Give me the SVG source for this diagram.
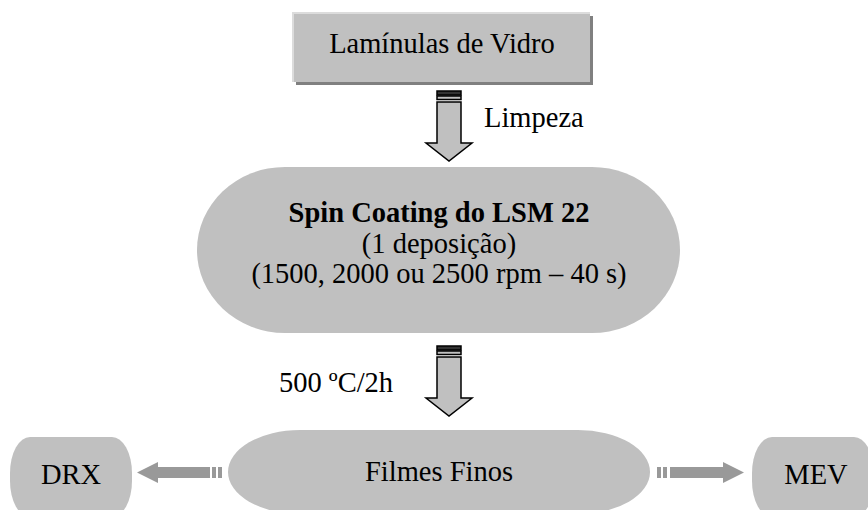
<svg xmlns="http://www.w3.org/2000/svg" width="868" height="510" viewBox="0 0 868 510">
<style>
.t{font-family:"Liberation Serif","Times New Roman",serif;font-size:28.5px;fill:#000;text-anchor:middle}
.b{font-weight:bold}
.shape{fill:#c0c0c0}
.blk{fill:#c0c0c0;stroke:#000;stroke-width:1.5}
.dark{fill:#333;stroke:#000;stroke-width:1.5}
.ga{fill:#999999}
</style>
<rect width="868" height="510" fill="#fff"/>
<g id="node-laminulas">
<rect x="296" y="16" width="297" height="69" fill="#808080"/>
<rect x="293" y="13" width="297" height="69" class="shape"/>
<polyline points="293,82 293,13 590,13" fill="none" stroke="#dcdcdc" stroke-width="2"/>
<text class="t" x="442" y="53">Lamínulas de Vidro</text>
</g>
<g id="node-spin">
<rect x="197" y="167" width="483" height="166" rx="88" ry="83" class="shape"/>
<text class="t b" x="439" y="222">Spin Coating do LSM 22</text>
<text class="t" x="439" y="253">(1 deposição)</text>
<text class="t" x="439" y="283">(1500, 2000 ou 2500 rpm – 40 s)</text>
</g>
<g id="node-filmes">
<rect x="228" y="430" width="422" height="84" rx="72" ry="42" class="shape"/>
<text class="t" x="439" y="481">Filmes Finos</text>
</g>
<g id="node-drx">
<rect x="10" y="437" width="122" height="80" rx="20" ry="36" class="shape"/>
<text class="t" x="71" y="484">DRX</text>
</g>
<g id="node-mev">
<rect x="752" y="437" width="122" height="80" rx="20" ry="36" class="shape"/>
<text class="t" x="816" y="484">MEV</text>
</g>
<g id="connectors">
<g id="arrow-limpeza">
<rect x="437" y="91" width="24" height="4" class="dark"/>
<rect x="437" y="96" width="24" height="3.5" class="blk"/>
<polygon points="437,102 461,102 461,143 472,143 449,161 426,143 437,143" class="blk"/>
<text class="t" x="484" y="127" style="text-anchor:start">Limpeza</text>
</g>
<g id="arrow-500">
<rect x="437" y="346" width="24" height="4" class="dark"/>
<rect x="437" y="351" width="24" height="3.5" class="blk"/>
<polygon points="437,357 461,357 461,398 472,398 449,416 426,398 437,398" class="blk"/>
<text class="t" x="336" y="392">500 ºC/2h</text>
</g>
<g id="arrow-drx">
<rect x="212" y="467" width="4" height="11" class="ga"/>
<rect x="218" y="467" width="4" height="11" class="ga"/>
<polygon points="210,467 158,467 158,462 137,472.5 158,483 158,478 210,478" class="ga"/>
</g>
<g id="arrow-mev">
<rect x="657" y="467" width="4" height="11" class="ga"/>
<rect x="663" y="467" width="4" height="11" class="ga"/>
<polygon points="670,467 723,467 723,462 744,472.5 723,483 723,478 670,478" class="ga"/>
</g>
</g>
</svg>
